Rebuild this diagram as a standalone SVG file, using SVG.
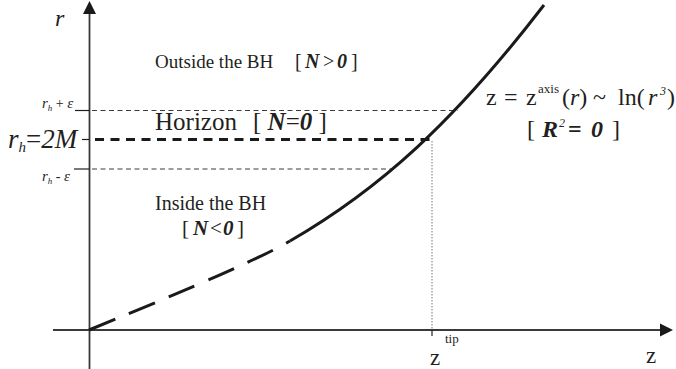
<svg xmlns="http://www.w3.org/2000/svg" width="676" height="369" viewBox="0 0 676 369">
<style>
text{font-family:"Liberation Serif","Times New Roman",serif;fill:#231f20}
.it{font-style:italic}
.bi{font-style:italic;font-weight:bold}
.axis{stroke:#3a3a3a;stroke-width:1.8;fill:none}
.thin{stroke:#3a3a3a;stroke-width:1;stroke-dasharray:5 3.5;fill:none}
.tick{stroke:#231f20;stroke-width:1.2;fill:none}
.curve{stroke:#1a1a1a;stroke-width:3;fill:none}
</style>
<rect width="676" height="369" fill="#fff"/>
<g id="axes">
<line class="axis" x1="89.5" y1="12" x2="89.5" y2="369"/>
<polygon points="89.5,1 83,14 96,14" fill="#1a1a1a"/>
<line class="axis" x1="53" y1="330" x2="662" y2="330"/>
<polygon points="673,330 660,323.5 660,336.5" fill="#1a1a1a"/>
<text x="55" y="26" class="it" font-size="24">r</text>
<text x="646" y="363" font-size="23">z</text>
</g>
<g id="connectors">
<line class="tick" x1="75" y1="110.5" x2="89.5" y2="110.5"/>
<line class="thin" x1="92" y1="110.5" x2="458" y2="110.5"/>
<line class="tick" x1="82" y1="139.5" x2="89.5" y2="139.5"/>
<line stroke="#1a1a1a" stroke-width="3" stroke-dasharray="9 6.5" x1="95" y1="139.5" x2="430" y2="139.5"/>
<line class="tick" x1="74" y1="169" x2="89.5" y2="169"/>
<line class="thin" x1="92" y1="169" x2="393" y2="169"/>
<line stroke="#777" stroke-width="1" stroke-dasharray="1.5 1.5" x1="432" y1="141" x2="432" y2="330"/>
<line class="tick" x1="432" y1="330" x2="432" y2="336"/>
<path class="curve" stroke-dasharray="28 15" d="M89,330 Q251,264 290,241"/>
<path class="curve" d="M290,241 C380,189 454,122 544,5"/>
</g>
<g id="labels">
<text x="42" y="108" class="it" font-size="15">r<tspan font-size="9" dy="3">h</tspan><tspan dy="-3" font-style="normal" font-size="14"> + </tspan>ε</text>
<text x="8" y="148" class="it" font-size="27">r<tspan font-size="15" dy="4">h</tspan><tspan dy="-4" font-style="normal">=</tspan>2M</text>
<text x="42" y="181" class="it" font-size="15">r<tspan font-size="9" dy="3">h</tspan><tspan dy="-3" font-style="normal" font-size="14"> - </tspan>ε</text>
</g>
<g id="outside">
<text x="155" y="68" font-size="19">Outside the BH</text>
<text font-size="20" y="68"><tspan x="295">[</tspan><tspan x="305" class="bi">N</tspan><tspan x="323">&gt;</tspan><tspan x="337" class="bi">0</tspan><tspan x="351">]</tspan></text>
</g>
<g id="horizon">
<text x="155" y="130" font-size="25">Horizon</text>
<text x="253" y="130" font-size="25">[ <tspan class="bi">N</tspan>=<tspan class="bi">0</tspan> ]</text>
</g>
<g id="inside">
<text x="155" y="210" font-size="20">Inside the BH</text>
<text font-size="21" y="235"><tspan x="182">[</tspan><tspan x="193" class="bi">N</tspan><tspan x="210">&lt;</tspan><tspan x="223" class="bi">0</tspan><tspan x="237">]</tspan></text>
</g>
<g id="equation">
<text font-size="24" y="105"><tspan x="486">z</tspan><tspan x="504">=</tspan><tspan x="526">z</tspan><tspan x="538" y="93" font-size="13">axis</tspan><tspan x="562" y="105">(</tspan><tspan class="it">r</tspan>)<tspan x="593">~</tspan><tspan x="618">ln(</tspan><tspan x="648" class="it">r</tspan><tspan x="660" y="95" font-size="12" class="it">3</tspan><tspan x="667" y="105">)</tspan></text>
<text font-size="24" y="137"><tspan x="527">[</tspan><tspan x="542" class="bi">R</tspan><tspan x="559" y="127" font-size="12" class="it">2</tspan><tspan x="568" y="137" font-weight="bold">=</tspan><tspan x="591" class="bi">0</tspan><tspan x="612">]</tspan></text>
</g>
<g id="ztip">
<text x="430" y="365" font-size="23">z</text>
<text x="445" y="343" font-size="13">tip</text>
</g>
</svg>
